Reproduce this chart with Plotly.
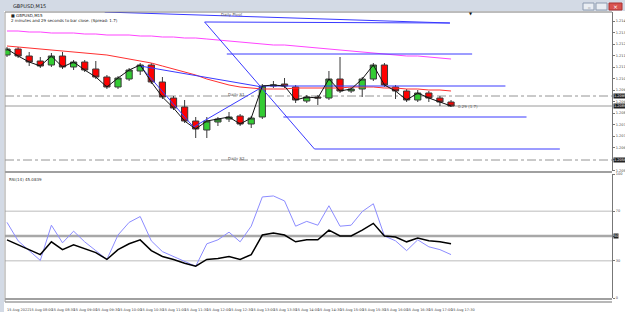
import plotly.graph_objects as go

# ---------------- data ----------------
open_ = [1.21196,1.21232,1.21190,1.21160,1.21136,1.21190,1.21124,1.21154,1.21112,1.21064,
         1.21004,1.21052,1.21100,1.21136,1.21034,1.20938,1.20884,1.20800,1.20746,1.20794,
         1.20812,1.20830,1.20782,1.20824,1.21010,1.21022,1.21004,1.20920,1.20944,1.20938,
         1.21052,1.20980,1.20992,1.21052,1.21136,1.21004,1.20980,1.20926,1.20968,1.20938,1.20914]
high = [1.21244,1.21244,1.21214,1.21184,1.21208,1.21214,1.21166,1.21166,1.21160,1.21076,
        1.21070,1.21118,1.21148,1.21148,1.21064,1.20950,1.20926,1.20824,1.20824,1.20824,
        1.20854,1.20842,1.20830,1.21022,1.21040,1.21058,1.21016,1.20956,1.20956,1.21100,
        1.21184,1.21004,1.21064,1.21148,1.21148,1.21016,1.20992,1.20986,1.20980,1.20950,1.20926]
low = [1.21184,1.21178,1.21130,1.21118,1.21124,1.21112,1.21106,1.21094,1.21052,1.20992,
       1.20992,1.21040,1.21076,1.21022,1.20932,1.20866,1.20788,1.20698,1.20698,1.20770,
       1.20794,1.20770,1.20758,1.20812,1.20998,1.20998,1.20908,1.20908,1.20896,1.20926,
       1.20968,1.20968,1.20944,1.21040,1.21004,1.20932,1.20914,1.20914,1.20914,1.20890,1.20884]
close = [1.21232,1.21190,1.21154,1.21130,1.21190,1.21124,1.21154,1.21106,1.21064,1.21004,
         1.21058,1.21106,1.21136,1.21034,1.20944,1.20878,1.20800,1.20752,1.20800,1.20812,
         1.20824,1.20782,1.20818,1.21010,1.21016,1.21010,1.20926,1.20944,1.20938,1.21052,
         1.20980,1.20992,1.21052,1.21136,1.21016,1.20980,1.20926,1.20968,1.20938,1.20914,1.20890]

ma_red = [1.21250,1.21244,1.21238,1.21232,1.21226,1.21220,1.21214,1.21208,1.21202,1.21196,
          1.21184,1.21172,1.21160,1.21148,1.21130,1.21112,1.21094,1.21076,1.21052,1.21034,
          1.21016,1.21004,1.20998,1.20992,1.20992,1.20992,1.20998,1.20998,1.20998,1.20998,
          1.20998,1.21004,1.21004,1.21004,1.20998,1.20998,1.20992,1.20992,1.20986,1.20986,1.20980]
ma_magenta = [1.21340,1.21340,1.21334,1.21334,1.21328,1.21328,1.21328,1.21322,1.21322,1.21316,
              1.21316,1.21316,1.21310,1.21310,1.21304,1.21304,1.21298,1.21298,1.21292,1.21286,
              1.21280,1.21274,1.21268,1.21262,1.21256,1.21256,1.21250,1.21244,1.21238,1.21232,
              1.21226,1.21220,1.21214,1.21208,1.21202,1.21196,1.21190,1.21190,1.21184,1.21178,1.21172]

rsi_blue = [61.0,46.1,38.2,30.3,58.7,44.5,53.9,45.3,38.2,31.1,
            50.8,61.0,65.7,46.1,37.4,33.5,29.5,25.6,43.7,46.9,
            53.1,45.3,57.9,81.5,82.3,78.3,57.9,61.8,58.7,74.4,
            57.9,58.7,69.7,76.0,50.0,46.1,38.2,46.9,41.3,39.0,35.0]
rsi_black = [46.9,42.9,39.0,35.0,45.3,39.0,42.9,39.8,36.6,31.1,
             39.0,43.7,46.9,38.2,33.5,31.1,28.0,25.6,31.1,31.9,
             33.5,31.1,35.0,50.8,52.4,50.8,45.3,46.9,46.9,54.7,
             50.0,50.0,54.7,60.2,50.0,49.2,45.3,48.4,46.1,45.3,43.7]

# drawn trend lines (bar index, price)
trend_x0 = [8.8, 17.8, 17.8, 27.7, 24.9, 23.0, 19.8, 12.0, 16.8, 12.0]
trend_x1 = [39.9, 39.9, 27.7, 49.8, 46.8, 44.9, 41.9, 16.8, 23.0, 23.0]
trend_p0 = [1.21454, 1.21394, 1.21394, 1.20632, 1.20824, 1.21010, 1.21202, 1.21130, 1.20764, 1.21130]
trend_p1 = [1.21388, 1.21388, 1.20632, 1.20632, 1.20824, 1.21010, 1.21202, 1.20764, 1.21004, 1.21004]

pivot_names = ["Daily S1", "Daily S2"]
pivot_levels = [1.20950, 1.20566]

price_ticks = [1.21400, 1.21331, 1.21262, 1.21193, 1.21124, 1.21055, 1.20986,
               1.20917, 1.20848, 1.20779, 1.20710, 1.20641, 1.20572, 1.20503]
price_tick_text = ["1.21400", "1.21331", "1.21262", "1.21193", "1.21124", "1.21055", "1.20986",
                   "1.20917", "1.20848", "1.20779", "1.20710", "1.20641", "", "1.20503"]
rsi_ticks = [0, 30, 50, 70, 100]
rsi_tick_text = ["0", "30", "", "70", "100"]
rsi_levels = [30, 50, 70]
time_labels = ["15 Aug 2022", "15 Aug 08:00", "15 Aug 08:30", "15 Aug 09:00", "15 Aug 09:30",
               "15 Aug 10:00", "15 Aug 10:30", "15 Aug 11:00", "15 Aug 11:30", "15 Aug 12:00",
               "15 Aug 12:30", "15 Aug 13:00", "15 Aug 13:30", "15 Aug 14:00", "15 Aug 14:30",
               "15 Aug 15:00", "15 Aug 15:30", "15 Aug 16:00", "15 Aug 16:30", "15 Aug 17:00",
               "15 Aug 17:30"]

idx = list(range(len(close)))
time_ticks = list(range(0, 2 * len(time_labels), 2))

FONT = "DejaVu Sans"
W, H = 625, 312
ML, MR, MT, MB = 5, 13, 12, 14
PW, PH = W - ML - MR, H - MT - MB


def px(x):
    return (x - ML) / PW


def py(y):
    return (H - MB - y) / PH


fig = go.Figure()

fig.add_trace(go.Scatter(x=idx, y=ma_magenta, mode="lines", line=dict(color="#ff44ff", width=1),
                         xaxis="x", yaxis="y", hoverinfo="skip", showlegend=False))
fig.add_trace(go.Scatter(x=idx, y=ma_red, mode="lines", line=dict(color="#ff3030", width=1),
                         xaxis="x", yaxis="y", hoverinfo="skip", showlegend=False))

for x0, x1, p0, p1 in zip(trend_x0, trend_x1, trend_p0, trend_p1):
    fig.add_trace(go.Scatter(x=[x0, x1], y=[p0, p1], mode="lines",
                             line=dict(color="#3a3aff", width=1),
                             xaxis="x", yaxis="y", hoverinfo="skip", showlegend=False))

fig.add_trace(go.Candlestick(
    x=idx, open=open_, high=high, low=low, close=close,
    increasing=dict(line=dict(color="#3a3a3a", width=1), fillcolor="#33cc33"),
    decreasing=dict(line=dict(color="#3a3a3a", width=1), fillcolor="#ff0000"),
    xaxis="x", yaxis="y", hoverinfo="skip", showlegend=False))

fig.add_trace(go.Scatter(x=idx, y=close, mode="lines", line=dict(color="#111111", width=1),
                         xaxis="x", yaxis="y", hoverinfo="skip", showlegend=False))

fig.add_trace(go.Scatter(x=idx, y=rsi_blue, mode="lines", line=dict(color="#8c8cff", width=1),
                         xaxis="x2", yaxis="y2", hoverinfo="skip", showlegend=False))
fig.add_trace(go.Scatter(x=idx, y=rsi_black, mode="lines", line=dict(color="#000000", width=1.5),
                         xaxis="x2", yaxis="y2", hoverinfo="skip", showlegend=False))

xr = [-0.18, 54.5]
main_dom = [py(171), 1]
rsi_dom = [0, py(174)]

shapes = []
for lv in pivot_levels:
    shapes.append(dict(type="line", xref="x domain", yref="y", x0=0, x1=1, y0=lv, y1=lv,
                       line=dict(color="#7a7a7a", width=0.8, dash="dashdot"), layer="below"))
shapes.append(dict(type="line", xref="x domain", yref="y", x0=0, x1=1, y0=close[-1], y1=close[-1],
                   line=dict(color="#9a9a9a", width=1), layer="below"))
for lv in rsi_levels:
    shapes.append(dict(type="line", xref="x2 domain", yref="y2", x0=0, x1=1, y0=lv, y1=lv,
                       line=dict(color="#a8a8a8" if lv == 50 else "#d2d2d2",
                                 width=2.5 if lv == 50 else 1.5), layer="below"))

chrome = "#d3dae5"
shapes += [
    dict(type="rect", xref="paper", yref="paper", x0=px(0), x1=px(625), y0=py(11), y1=py(0),
         fillcolor=chrome, line=dict(width=0), layer="below"),
    dict(type="rect", xref="paper", yref="paper", x0=px(0), x1=px(4), y0=py(312), y1=py(11),
         fillcolor=chrome, line=dict(width=0), layer="below"),
    dict(type="line", xref="paper", yref="paper", x0=px(5), x1=px(612), y0=py(12), y1=py(12),
         line=dict(color="#7a7a7a", width=1)),
    dict(type="line", xref="paper", yref="paper", x0=px(5), x1=px(5), y0=py(302), y1=py(12),
         line=dict(color="#9a9a9a", width=1)),
    dict(type="line", xref="paper", yref="paper", x0=px(5), x1=px(612), y0=py(172), y1=py(172),
         line=dict(color="#a0a0a0", width=2)),
    dict(type="line", xref="paper", yref="paper", x0=px(5), x1=px(612), y0=py(299), y1=py(299),
         line=dict(color="#a0a0a0", width=2)),
    dict(type="line", xref="paper", yref="paper", x0=px(5), x1=px(612), y0=py(302), y1=py(302),
         line=dict(color="#a0a0a0", width=1.5)),
    dict(type="rect", xref="paper", yref="paper", x0=px(583), x1=px(594), y0=py(10), y1=py(3),
         fillcolor="#e9edf3", line=dict(color="#8d9bb0", width=1)),
    dict(type="rect", xref="paper", yref="paper", x0=px(596), x1=px(607), y0=py(10), y1=py(3),
         fillcolor="#e9edf3", line=dict(color="#8d9bb0", width=1)),
    dict(type="rect", xref="paper", yref="paper", x0=px(609), x1=px(622), y0=py(10), y1=py(3),
         fillcolor="#d9534f", line=dict(color="#a33", width=1)),
]

ann = []


def note(text, x, y, size=5, color="#333333", xanchor="left", yanchor="middle", bg=None, **kw):
    d = dict(text=text, x=x, y=y, showarrow=False, xanchor=xanchor, yanchor=yanchor,
             font=dict(family=FONT, size=size, color=color), borderpad=0)
    if bg:
        d["bgcolor"] = bg
    d.update(kw)
    ann.append(d)


note("GBPUSD,M15", px(12), py(5.5), size=5, color="#222", xref="paper", yref="paper")
note("■ GBPUSD,M15", px(10), py(15.5), size=4, color="#222", xref="paper", yref="paper")
note("2 minutes and 29 seconds to bar close. (Spread: 1.7)", px(10), py(20), size=4, color="#222",
     xref="paper", yref="paper")
note("Daily Pivot", px(220), py(14.5), size=4, color="#555", xref="paper", yref="paper")
for name, lv in zip(pivot_names, pivot_levels):
    note(name, 19.8, lv, size=4, color="#555", xref="x", yref="y", yshift=2)
note("0.29 (1.7)", 40.5, close[-1], size=4, color="#555", xref="x", yref="y")
note("▼", px(471), py(13), size=4, color="#111", xanchor="center", xref="paper", yref="paper")
note("RSI(14) 45.0839", 0.005, 0.985, size=4, color="#333", yanchor="top",
     xref="x2 domain", yref="y2 domain")
for lv in pivot_levels + [close[-1]]:
    note("%.5f" % lv, 1.002, lv, size=3.5, color="#ffffff", bg="#222222", xref="paper", yref="y")
note("50", 1.002, 50, size=3.5, color="#ffffff", bg="#222222", xref="paper", yref="y2")
note("_", px(588.5), py(6), size=5, color="#333", xanchor="center", xref="paper", yref="paper")
note("×", px(615.5), py(6.5), size=6, color="#ffffff", xanchor="center", xref="paper", yref="paper")

axis_common = dict(showgrid=False, zeroline=False, fixedrange=True, automargin=False)

fig.update_layout(
    template="none",
    width=W, height=H,
    margin=dict(l=ML, r=MR, t=MT, b=MB, pad=0),
    paper_bgcolor="#ffffff", plot_bgcolor="#ffffff",
    boxgap=0.2,
    showlegend=False,
    font=dict(family=FONT, size=5, color="#333"),
    xaxis=dict(domain=[0, 1], range=xr, anchor="y", showticklabels=False, ticks="",
               rangeslider=dict(visible=False), showline=False, **axis_common),
    yaxis=dict(domain=main_dom, range=[1.20500, 1.21454], anchor="x", side="right",
               tickvals=price_ticks, ticktext=price_tick_text,
               tickfont=dict(size=3.5, color="#444"), ticks="outside", ticklen=2, tickcolor="#777",
               showline=True, linecolor="#777", linewidth=1, **axis_common),
    xaxis2=dict(domain=[0, 1], range=xr, anchor="y2", matches="x",
                tickvals=time_ticks, ticktext=time_labels, tickfont=dict(size=3.5, color="#444"),
                tickangle=0, ticks="", ticklabelstandoff=8,
                ticklabelposition="outside right", showline=False, **axis_common),
    yaxis2=dict(domain=rsi_dom, range=[0, 100], anchor="x2", side="right",
                tickvals=rsi_ticks, ticktext=rsi_tick_text,
                tickfont=dict(size=3.5, color="#444"), ticks="outside", ticklen=2, tickcolor="#777",
                showline=True, linecolor="#777", linewidth=1, **axis_common),
    shapes=shapes,
    annotations=ann,
)

fig.write_html("out.html", config={"displayModeBar": False})
